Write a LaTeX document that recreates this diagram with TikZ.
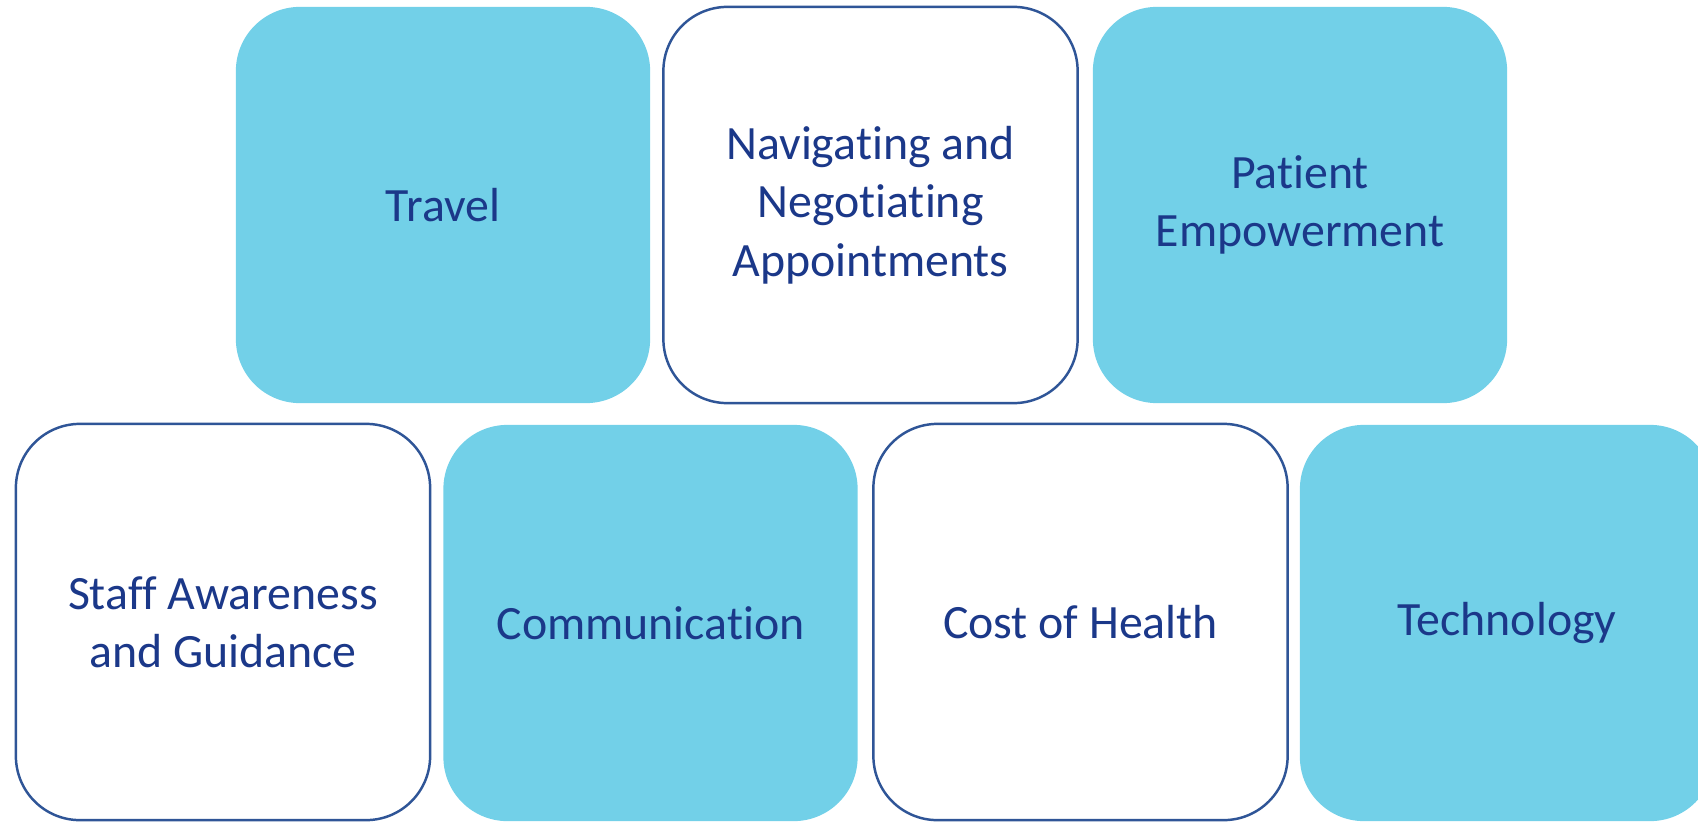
\documentclass[tikz,border=0pt]{standalone}
\usepackage{fontspec}
\setmainfont[RawFeature={-liga}]{Carlito}
\usepackage{tikz}
\definecolor{tilefill}{HTML}{72D0E8}
\definecolor{tileline}{HTML}{2F5597}
\definecolor{tiletext}{HTML}{1B3889}

\begin{document}
\begin{tikzpicture}[x=0.01cm,y=-0.01cm,
	tile/.style={minimum width=4.14cm,minimum height=3.96cm,rounded corners=0.64cm,
		align=center,text=tiletext,font=\fontsize{13.6}{16.6}\selectfont,inner sep=0pt},
	filled/.style={tile,fill=tilefill},
	outlined/.style={tile,draw=tileline,line width=0.7pt,fill=white}]
	\useasboundingbox (0,0) rectangle (1698,821);
	\clip (0,0) rectangle (1698,821);
	% top row
	\node [filled] (travel) at (443,205) {Travel};
	\node [outlined] (navig) at (870.5,205) {Navigating and\\Negotiating\\Appointments};
	\node [filled] (patient) at (1300,205) {Patient\\Empowerment};
	% bottom row
	\node [outlined] (staff) at (223,622) {Staff Awareness\\and Guidance};
	\node [filled] (comm) at (650.5,623) {Communication};
	\node [outlined] (cost) at (1080.5,622) {Cost of Health};
	\node [filled] (tech) at (1507,623) {Technology};
\end{tikzpicture}
\end{document}
